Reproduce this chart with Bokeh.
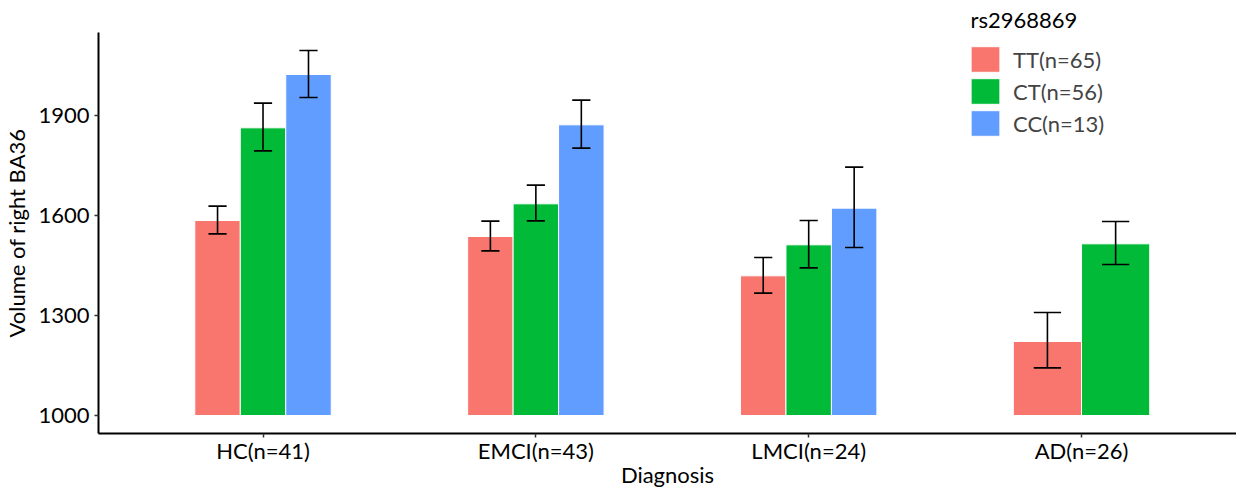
from bokeh.plotting import figure
from bokeh.models import Legend, LegendItem, FixedTicker, Range1d, ColumnDataSource, Title
from bokeh.embed import file_html
from bokeh.resources import INLINE

categories = ["HC(n=41)", "EMCI(n=43)", "LMCI(n=24)", "AD(n=26)"]
genotypes = ["TT(n=65)", "CT(n=56)", "CC(n=13)"]
legend_title = "rs2968869"
colors = ["#F8766D", "#00BA38", "#619CFF"]

tt_mean = [1585, 1537, 1419, 1222]
tt_lo = [1545, 1494, 1367, 1143]
tt_hi = [1628, 1583, 1474, 1309]
ct_mean = [1863, 1635, 1512, 1515]
ct_lo = [1794, 1584, 1443, 1453]
ct_hi = [1937, 1691, 1585, 1582]
cc_mean = [2023, 1872, 1622, None]
cc_lo = [1954, 1802, 1504, None]
cc_hi = [2095, 1946, 1745, None]

y_ticks = [1000, 1300, 1600, 1900]
baseline = 1000

series = [(tt_mean, tt_lo, tt_hi), (ct_mean, ct_lo, ct_hi), (cc_mean, cc_lo, cc_hi)]

FONT = "Lato"
FS = "22px"

p = figure(width=1236, height=490, output_backend="svg", toolbar_location=None,
           x_range=Range1d(0.397, 4.568), y_range=Range1d(946, 2149),
           min_border_left=97, min_border_right=0, min_border_top=32, min_border_bottom=57)
p.xgrid.visible = False
p.ygrid.visible = False
p.outline_line_color = None
p.background_fill_color = "white"
p.border_fill_color = "white"

total_w = 0.5
renderers = []
for gi, (m, lo, hi) in enumerate(series):
    xs, tops, los, his, ws = [], [], [], [], []
    for ci in range(len(categories)):
        present = [k for k in range(len(series)) if series[k][0][ci] is not None]
        if m[ci] is None:
            continue
        n = len(present)
        w = total_w / n
        idx = present.index(gi)
        x = ci + 1 - total_w / 2 + w * (idx + 0.5)
        xs.append(x); tops.append(m[ci]); los.append(lo[ci]); his.append(hi[ci]); ws.append(w)
    src = ColumnDataSource(dict(x=xs, top=tops, w=ws, lo=los, hi=his,
                                cl=[x - 0.2 * w for x, w in zip(xs, ws)],
                                cr=[x + 0.2 * w for x, w in zip(xs, ws)]))
    r = p.vbar(x="x", top="top", bottom=baseline, width="w", source=src,
               fill_color=colors[gi], line_color="white", line_width=1)
    renderers.append(r)
    p.segment(x0="x", y0="lo", x1="x", y1="hi", source=src, line_color="black", line_width=1.6)
    p.segment(x0="cl", y0="lo", x1="cr", y1="lo", source=src, line_color="black", line_width=1.6)
    p.segment(x0="cl", y0="hi", x1="cr", y1="hi", source=src, line_color="black", line_width=1.6)

for ax in (p.xaxis[0], p.yaxis[0]):
    ax.axis_line_color = "black"
    ax.axis_line_width = 2
    ax.major_tick_line_color = "#333333"
    ax.major_tick_line_width = 1.5
    ax.major_tick_out = 4
    ax.major_tick_in = 0
    ax.minor_tick_line_color = None
    ax.major_label_text_font = FONT
    ax.major_label_text_font_size = FS
    ax.major_label_text_color = "black"
    ax.axis_label_text_font = FONT
    ax.axis_label_text_font_size = FS
    ax.axis_label_text_font_style = "normal"
    ax.axis_label_text_color = "black"

p.xaxis.ticker = FixedTicker(ticks=list(range(1, len(categories) + 1)))
p.xaxis.major_label_overrides = {i + 1: c for i, c in enumerate(categories)}
p.xaxis.axis_label = "Diagnosis"
p.xaxis.major_label_standoff = -1
p.xaxis.axis_label_standoff = -6
p.yaxis.ticker = FixedTicker(ticks=y_ticks)
p.yaxis.axis_label = "Volume of right BA36"
p.yaxis.major_label_standoff = 5
p.yaxis.axis_label_standoff = 5

legend = Legend(items=[LegendItem(label=g, renderers=[r]) for g, r in zip(genotypes, renderers)],
                location=(869, 294),
                label_text_font=FONT, label_text_font_size=FS,
                glyph_width=36, glyph_height=32, label_height=32, spacing=0,
                label_standoff=10, padding=0, margin=0,
                border_line_alpha=0, background_fill_alpha=0)
p.add_layout(legend)

p.add_layout(Title(text=legend_title, align="left", offset=872, standoff=0,
                   text_font=FONT, text_font_size=FS, text_font_style="normal",
                   text_color="black"), "above")

open("out.html", "w").write(file_html(p, INLINE))
